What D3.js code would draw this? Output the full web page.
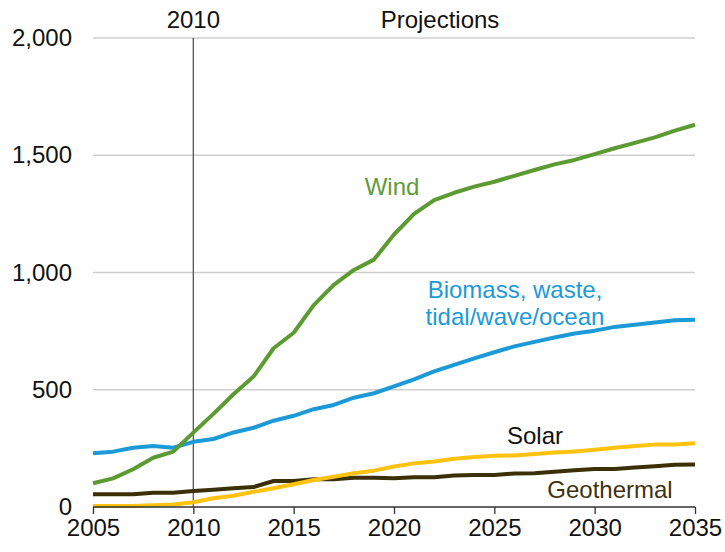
<!DOCTYPE html>
<html>
<head>
<meta charset="utf-8">
<script src="https://cdn.jsdelivr.net/npm/d3@7"></script>
<style>
  html, body { margin: 0; padding: 0; background: #fff; }
  svg { display: block; font-family: "Liberation Sans", Arial, sans-serif; }
</style>
</head>
<body>
<svg id="chart" width="725" height="552"></svg>
<script>
// Years on the x axis
const years = d3.range(2005, 2036);

// Capacity by technology, one value per year 2005-2035
const wind = [101, 122, 161, 210, 236, 317, 397, 481, 556, 677, 743, 861, 947, 1011, 1055,
  1162, 1250, 1309, 1340, 1366, 1387, 1412, 1437, 1461, 1480, 1505, 1530, 1553, 1576, 1605, 1630];
const biomass = [229, 236, 253, 260, 253, 278, 290, 318, 338, 368, 389, 417, 435, 466, 485,
  514, 544, 578, 606, 634, 660, 685, 704, 723, 740, 752, 768, 777, 787, 796, 799];
const solar = [4, 4, 4, 8, 11, 20, 37, 48, 65, 80, 97, 115, 129, 144, 155,
  173, 186, 194, 206, 213, 219, 220, 226, 232, 237, 244, 253, 260, 266, 267, 272];
const geothermal = [54, 54, 54, 61, 61, 68, 74, 80, 85, 111, 111, 118, 118, 125, 125,
  123, 127, 127, 134, 136, 136, 143, 144, 150, 157, 162, 162, 168, 174, 180, 181];

// Axis ticks
const xTicks = [2005, 2010, 2015, 2020, 2025, 2030, 2035];
const yTicks = [0, 500, 1000, 1500, 2000];

const FONT = 24;
const svg = d3.select("#chart");
const x = d3.scaleLinear().domain([2005, 2035]).range([93, 695]);
const y = d3.scaleLinear().domain([0, 2000]).range([507, 38]);

// Horizontal gridlines
svg.append("g")
  .selectAll("line")
  .data(yTicks.filter(d => d > 0))
  .join("line")
  .attr("x1", x(2005)).attr("x2", x(2035))
  .attr("y1", d => y(d)).attr("y2", d => y(d))
  .attr("stroke", "#cfcfcf").attr("stroke-width", 1.5);

// Y axis labels (no axis line)
const yAxis = d3.axisLeft(y).tickValues(yTicks).tickSize(0).tickPadding(21)
  .tickFormat(d3.format(","));
svg.append("g")
  .attr("transform", `translate(${x(2005)},0)`)
  .call(yAxis)
  .call(g => g.select(".domain").remove())
  .call(g => g.selectAll("text")
    .attr("font-size", FONT).attr("fill", "#111").attr("font-family", "Liberation Sans, Arial, sans-serif"));

// Marker for the base year
svg.append("line")
  .attr("x1", x(2010)).attr("x2", x(2010))
  .attr("y1", y(2000)).attr("y2", y(0))
  .attr("stroke", "#555").attr("stroke-width", 1.3);

// Series lines
const line = d3.line().x((d, i) => x(years[i])).y(d => y(d));
const series = [
  { values: geothermal, color: "#3b2f06" },
  { values: solar, color: "#ffc20e" },
  { values: biomass, color: "#1c9ad8" },
  { values: wind, color: "#5c9a32" }
];
svg.append("g")
  .selectAll("path")
  .data(series)
  .join("path")
  .attr("d", d => line(d.values))
  .attr("fill", "none")
  .attr("stroke", d => d.color)
  .attr("stroke-width", 4)
  .attr("stroke-linejoin", "round");

// X axis
const xAxis = d3.axisBottom(x).tickValues(xTicks).tickSize(7).tickPadding(5)
  .tickFormat(d3.format("d"));
svg.append("g")
  .attr("transform", `translate(0,${y(0)})`)
  .call(xAxis)
  .call(g => g.select(".domain").attr("stroke", "#333").attr("stroke-width", 1.3)
    .attr("d", `M${x(2005)},0H${x(2035)}`))
  .call(g => g.selectAll(".tick line").attr("stroke", "#333").attr("stroke-width", 1.3))
  .call(g => g.selectAll("text")
    .attr("font-size", FONT).attr("fill", "#111").attr("font-family", "Liberation Sans, Arial, sans-serif"));

// Header labels
svg.append("text").attr("x", x(2010)).attr("y", 28).attr("text-anchor", "middle")
  .attr("font-size", FONT).attr("fill", "#111").text("2010");
svg.append("text").attr("x", 440).attr("y", 28).attr("text-anchor", "middle")
  .attr("font-size", FONT).attr("fill", "#111").text("Projections");

// Series labels
const labels = [
  { lines: ["Wind"], x: 392, y: 195, color: "#5e9c36" },
  { lines: ["Biomass, waste,", "tidal/wave/ocean"], x: 515, y: 298, color: "#1c9ad8" },
  { lines: ["Solar"], x: 535, y: 444, color: "#111" },
  { lines: ["Geothermal"], x: 610, y: 498, color: "#3f3210" }
];
labels.forEach(l => {
  const t = svg.append("text").attr("x", l.x).attr("y", l.y)
    .attr("text-anchor", "middle").attr("font-size", FONT).attr("fill", l.color);
  l.lines.forEach((s, i) => {
    t.append("tspan").attr("x", l.x).attr("dy", i === 0 ? 0 : 27).text(s);
  });
});
</script>
</body>
</html>
